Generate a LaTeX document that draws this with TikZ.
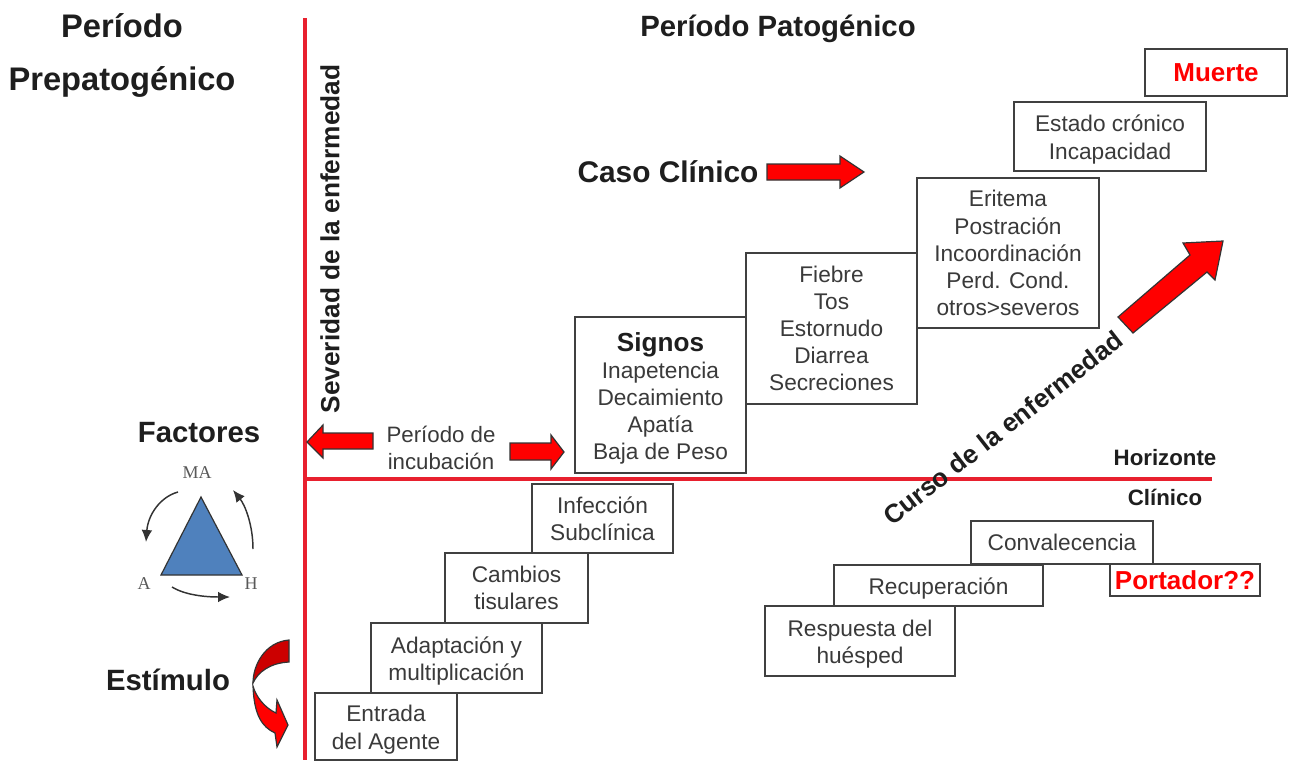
\documentclass[tikz,border=0pt]{standalone}
\usepackage{fontspec}
\setmainfont{Liberation Sans}
\newfontfamily\serifF{Liberation Serif}
\usetikzlibrary{arrows.meta}
\definecolor{txt}{HTML}{3A3A3A}
\definecolor{hd}{HTML}{1E1E1E}
\definecolor{redline}{HTML}{E8202E}
\definecolor{triblue}{RGB}{79,129,189}
\newcommand{\dn}{\rule{0pt}{17pt}}
\tikzset{
 x=0.75pt,y=-0.75pt,
 box/.style={draw=black!75,line width=1.1pt,fill=white,align=center,text=txt,inner sep=0pt,font=\fontsize{17}{20.3}\selectfont},
 head/.style={font=\fontsize{24.5}{28}\selectfont\bfseries,text=hd,inner sep=0pt},
 lab/.style={font=\fontsize{22}{26}\selectfont\bfseries,text=hd,inner sep=0pt},
 small/.style={font=\fontsize{16.7}{20}\selectfont\bfseries,text=hd,inner sep=0pt},
 axis/.style={draw=redline,line width=3.2pt},
 fat/.style={draw=black!80,fill=red,line width=0.9pt,line join=miter},
 serifl/.style={font=\serifF\fontsize{13.5}{15}\selectfont,text=black!65,inner sep=0pt},
 cyc/.style={draw=black!80,line width=1.1pt,-{Latex[length=9pt,width=8pt]}},
}
\begin{document}
\begin{tikzpicture}
\useasboundingbox (0,0) rectangle (1291,760);
\fill[white] (0,0) rectangle (1291,760);
% axes
\coordinate (vt) at (305,18); \coordinate (vb) at (305,760);
\coordinate (hl) at (305,479); \coordinate (hr) at (1212,479);
\draw[axis] (vt) -- (vb);
\draw[axis] (hl) -- (hr);
% headings
\node[head] (t1) at (122,26) {Período};
\node[head] (t2) at (122,82) {Prepatogénico};
\node[head,font=\fontsize{22}{26}\selectfont\bfseries] (t3) at (778,29) {Período Patogénico};
\node[head,rotate=90,font=\fontsize{19.7}{23}\selectfont\bfseries] (sev) at (330,239) {Severidad de la enfermedad};
\node[head,font=\fontsize{22.4}{26}\selectfont\bfseries] (cc) at (668,172) {Caso Clínico};
\node[lab] (fac) at (199,433) {Factores};
\node[lab] (est) at (168,680) {Estímulo};
\node[small] (hz) at (1165,458) {Horizonte};
\node[small] (cl) at (1165,497) {Clínico};
\node[lab,rotate=38,font=\fontsize{19.5}{23}\selectfont\bfseries] (curso) at (1003,428) {Curso de la enfermedad};
% boxes
\node[box,minimum width=106.5pt,minimum height=35.25pt,text=red] (muerte) at (1216,72.5) {\bfseries\fontsize{19.5}{22}\selectfont Muerte};
\node[box,minimum width=144pt,minimum height=51.75pt] (cron) at (1110,136.5) {\dn Estado crónico\\Incapacidad};
\node[box,minimum width=136.5pt,minimum height=112.5pt] (erit) at (1008,253) {Eritema\\Postración\\Incoordinación\\Perd. Cond.\\otros>severos};
\node[box,minimum width=128.25pt,minimum height=113.25pt] (fieb) at (831.5,328.5) {Fiebre\\Tos\\Estornudo\\Diarrea\\Secreciones};
\node[box,minimum width=128.25pt,minimum height=117pt] (sig) at (660.5,395) {\rule{0pt}{19pt}{\bfseries\color{hd}\fontsize{19.6}{20.3}\selectfont Signos}\\Inapetencia\\Decaimiento\\Apatía\\Baja de Peso};
\node[box,minimum width=105.75pt,minimum height=51.75pt] (inf) at (602.5,518.5) {Infección\\Subclínica};
\node[box,minimum width=107.25pt,minimum height=52.5pt] (camb) at (516.5,588) {Cambios\\tisulares};
\node[box,minimum width=128.25pt,minimum height=52.5pt] (adap) at (456.5,658) {\dn Adaptación y\\multiplicación};
\node[box,minimum width=106.5pt,minimum height=50.25pt] (ent) at (386,726.5) {\dn Entrada\\del Agente};
\node[box,minimum width=136.5pt,minimum height=32.25pt] (conv) at (1062,542.5) {Convalecencia};
\node[box,minimum width=156.75pt,minimum height=30.75pt] (rec) at (938.5,585.5) {\dn Recuperación};
\node[box,minimum width=142.5pt,minimum height=52.5pt] (resp) at (860,641) {\dn Respuesta del\\huésped};
\node[box,minimum width=112.5pt,minimum height=24pt,text=red] (port) at (1185,580) {\bfseries\fontsize{19.5}{22}\selectfont Portador??};
% incubation
\node[align=center,text=txt,inner sep=0pt,font=\fontsize{16.7}{20.3}\selectfont] (inc) at (441,448) {Período de\\incubación};
% block arrows
\path[fat,draw] (767,164) -- (840,164) -- (840,156) -- (864,172) -- (840,188) -- (840,180) -- (767,180) -- cycle;
\path[fat,draw] (1118,317) -- (1190,255) -- (1183,243) -- (1223,241) -- (1215,280) -- (1207,272) -- (1133,333) -- cycle;
\path[fat,draw] (373,433) -- (323,433) -- (323,425) -- (307,442) -- (323,458) -- (323,449) -- (373,449) -- cycle;
\path[fat,draw] (510,443) -- (551,443) -- (551,435) -- (564,452) -- (551,469) -- (551,460) -- (510,460) -- cycle;
% triangle
\coordinate (tA) at (161,575); \coordinate (tM) at (201,497); \coordinate (tH) at (242,575);
\draw[fill=triblue,draw=black!80,line width=0.9pt] (tA) -- (tM) -- (tH) -- cycle;
\node[serifl] (ma) at (197,473) {MA};
\node[serifl] (la) at (144,584) {A};
\node[serifl] (lh) at (251,584) {H};
\coordinate (c1a) at (178,492); \coordinate (c1b) at (146,542);
\draw[cyc] (c1a) .. controls (160,497) and (148,515) .. (c1b);
\coordinate (c2a) at (253,549); \coordinate (c2b) at (233,490);
\draw[cyc] (c2a) .. controls (253,525) and (245,505) .. (c2b);
\coordinate (c3a) at (172,587); \coordinate (c3b) at (230,597);
\draw[cyc] (c3a) .. controls (185,595) and (205,597) .. (c3b);
% curved arrow
\path[draw=black!80,fill=red!80!black,line width=0.9pt] (289,640) .. controls (265,642) and (253,665) .. (253,683) .. controls (258,672) and (270,663) .. (289,662) -- cycle;
\path[draw=black!80,fill=red,line width=0.9pt] (253,686) .. controls (254,715) and (262,727) .. (275,733) -- (277,747) -- (288,725) -- (277,700) -- (276,713) .. controls (265,708) and (256,697) .. (253,686) -- cycle;
\end{tikzpicture}
\end{document}
